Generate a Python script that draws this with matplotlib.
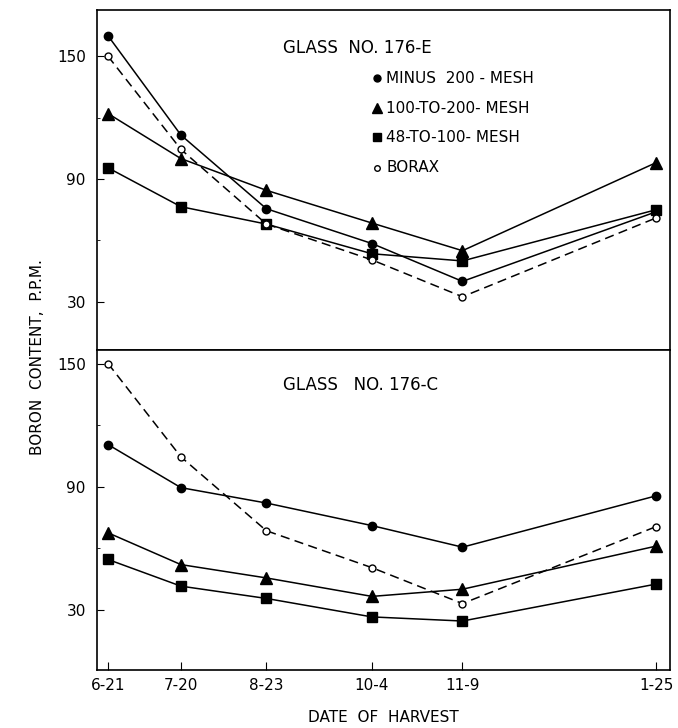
import numpy as np
import matplotlib.pyplot as plt

# --- harvest dates (days after 6-21) ---
dates = ['6-21', '7-20', '8-23', '10-4', '11-9', '1-25']
days = [0, 29, 63, 105, 141, 218]

# --- Glass No. 176-E ---
e_minus200 = [160, 111.5, 75.5, 58.5, 40, 74]
e_100_200 = [122, 100, 84.5, 68.5, 55, 98]
e_48_100 = [95.5, 76.5, 68, 53.5, 50, 75]
e_borax = [150, 104.5, 68, 50.5, 32.5, 71]

# --- Glass No. 176-C ---
c_minus200 = [110.5, 89.5, 82, 71, 60.5, 85.5]
c_100_200 = [67.5, 52, 45.5, 36.5, 40, 61]
c_48_100 = [54.5, 41.5, 35.5, 26.5, 24.5, 42.5]
c_borax = [150, 104.5, 68.5, 50.5, 33, 70.5]

series_labels = ['MINUS  200 - MESH', '100-TO-200- MESH', '48-TO-100- MESH', 'BORAX']
styles = [dict(marker='o', ms=6, mfc='black', ls='-'),
          dict(marker='^', ms=8, mfc='black', ls='-'),
          dict(marker='s', ms=7, mfc='black', ls='-'),
          dict(marker='o', ms=5, mfc='white', ls=(0, (6, 3.5)))]

plt.rcParams['font.family'] = 'DejaVu Sans'

fig = plt.figure(figsize=(6.78, 7.28), dpi=100)
ax_top = fig.add_axes([0.143, 0.519, 0.845, 0.467])
ax_bot = fig.add_axes([0.143, 0.080, 0.845, 0.439])


def draw_panel(ax, data, title, ylim):
    for vals, st in zip(data, styles):
        ax.plot(days, vals, color='black', lw=1.1, mec='black', mew=1.0, **st)
    ax.set_xlim(-4.4, 223.5)
    ax.set_ylim(*ylim)
    ax.set_yticks([30, 90, 150])
    ax.set_yticks([60, 120], minor=True)
    ax.tick_params(axis='y', direction='in', length=5, labelsize=11, pad=8)
    ax.tick_params(axis='y', which='minor', direction='in', length=2)
    ax.text(0.325, 0.89, title, transform=ax.transAxes,
            fontsize=12, ha='left', va='center')
    for sp in ax.spines.values():
        sp.set_linewidth(1.2)


draw_panel(ax_top, [e_minus200, e_100_200, e_48_100, e_borax], 'GLASS  NO. 176-E', (6.4, 172.5))
draw_panel(ax_bot, [c_minus200, c_100_200, c_48_100, c_borax], 'GLASS   NO. 176-C', (0.75, 156.5))

# legend (only in top panel)
leg_y = [0.80, 0.712, 0.627, 0.536]
for ly, lab, st in zip(leg_y, series_labels, styles):
    ax_top.plot([0.488], [ly], transform=ax_top.transAxes, color='black', ls='none',
                marker=st['marker'], ms=st['ms'] - 1, mfc=st['mfc'], mec='black')
    ax_top.text(0.505, ly, lab, transform=ax_top.transAxes, fontsize=11, ha='left', va='center')

ax_top.set_xticks([])
ax_bot.set_xticks(days)
ax_bot.set_xticklabels(dates)
ax_bot.tick_params(axis='x', direction='in', length=6, labelsize=11, pad=6)

ax_bot.set_xlabel('DATE  OF  HARVEST', fontsize=11, labelpad=12)
fig.text(0.055, 0.51, 'BORON  CONTENT,  P.P.M.', rotation=90, fontsize=11,
         ha='center', va='center')

fig.savefig('out.png', dpi=100)
